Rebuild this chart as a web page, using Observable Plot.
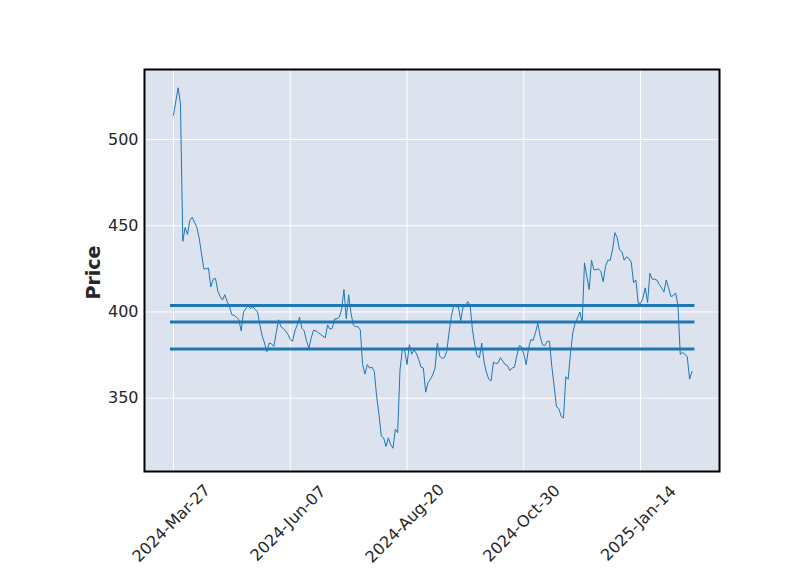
<!DOCTYPE html>
<html>
<head>
<meta charset="utf-8">
<script src="https://cdn.jsdelivr.net/npm/d3@7"></script>
<script src="https://cdn.jsdelivr.net/npm/@observablehq/plot@0.6"></script>
<style>
  html, body { margin: 0; padding: 0; background: white; }
</style>
</head>
<body>
<div id="chart"></div>
<script>
const prices = [
  514, 522, 530, 521, 441, 449, 445, 453, 455, 452,
  449, 443, 434, 425, 425, 425.5, 414.5, 419, 419.5, 412,
  409, 407, 410, 406, 403, 398.5, 398, 397, 395.5, 389,
  400, 402, 403.5, 402, 403, 401.5, 400, 392.5, 386, 382,
  377, 382, 381.5, 380, 388, 395.5, 391.5, 390.5, 389, 387,
  384, 383, 389, 392.5, 397, 390.5, 389, 383, 379, 385,
  389.5, 389, 388, 387, 386, 385, 392.5, 390, 390.5, 396,
  396, 397, 401.5, 413, 396, 410, 399.5, 392.5, 391.5, 391.5,
  389.5, 369.5, 364, 369.5, 367.5, 368, 365.5, 351, 340.5, 328,
  327, 322, 327, 323, 321, 332, 330, 366.5, 378, 378,
  369.5, 381, 375.5, 378, 376, 372.5, 368, 367.5, 353.5, 359,
  361, 363.5, 367.5, 382, 374.5, 373, 373.5, 377, 388, 397.5,
  403.5, 403, 403, 395, 403, 403, 406, 404, 390, 381,
  374.5, 373.5, 382, 371, 365, 361, 360, 371, 370, 370.5,
  373.5, 371.5, 369.5, 369, 366, 367.5, 368, 374.5, 380.5, 380,
  375.5, 369.5, 378.5, 384, 383.5, 388, 393.5, 386, 381, 380.5,
  383, 383, 368.5, 357, 345, 344, 339.5, 338.5, 362.5, 361,
  376, 388, 393.5, 396.5, 400, 394, 428.5, 420.5, 413, 430,
  424.5, 424.5, 425, 423.5, 417.5, 426.5, 430, 430, 436, 446,
  443, 436, 435, 430, 432, 431, 429, 417, 418.5, 405,
  405, 408, 414, 405.5, 422.5, 419, 419, 418.5, 416, 414,
  411.5, 418.5, 414, 409, 409.5, 411, 404, 375.5, 376.5, 375.5,
  374, 361, 365.5
];
const tickIndex = [0, 50, 100, 150, 200];
const dateLabels = ["2024-Mar-27", "2024-Jun-07", "2024-Aug-20", "2024-Oct-30", "2025-Jan-14"];
const yTicks = [350, 400, 450, 500];
const levels = [403.8, 394.2, 378.6];

const data = prices.map((p, i) => ({i, p}));
const lineColor = "#1f77b4";

const chart = Plot.plot({
  width: 800,
  height: 575,
  marginLeft: 144,
  marginRight: 81,
  marginTop: 69,
  marginBottom: 104,
  style: {fontFamily: "DejaVu Sans", fontSize: "16px", color: "#262626", background: "white"},
  x: {domain: [-12.4, 233.8]},
  y: {domain: [307.5, 540.6]},
  marks: [
    Plot.frame({fill: "#DCE3EF"}),
    Plot.gridX(tickIndex, {stroke: "white", strokeOpacity: 1, strokeWidth: 1}),
    Plot.gridY(yTicks, {stroke: "white", strokeOpacity: 1, strokeWidth: 1}),
    Plot.line(data, {x: "i", y: "p", stroke: lineColor, strokeWidth: 1}),
    Plot.ruleY(levels, {y: d => d, x1: 0, x2: prices.length - 1, stroke: lineColor, strokeWidth: 3, insetLeft: -3, insetRight: -3}),
    Plot.axisY(yTicks, {tickSize: 0, tickPadding: 6, label: null, fontSize: 16}),
    Plot.axisX(tickIndex, {
      tickSize: 0, tickPadding: 0, label: null, fontSize: 16,
      tickFormat: d => dateLabels[tickIndex.indexOf(d)],
      tickRotate: -45, textAnchor: "middle", lineAnchor: "middle", dy: 52, dx: -2
    }),
    Plot.text(["Price"], {frameAnchor: "left", textAnchor: "middle", dx: -51, dy: 2, rotate: -90, fontWeight: "bold", fontSize: 19}),
    Plot.frame({stroke: "black", strokeWidth: 2})
  ]
});
document.getElementById("chart").appendChild(chart);
</script>
</body>
</html>
